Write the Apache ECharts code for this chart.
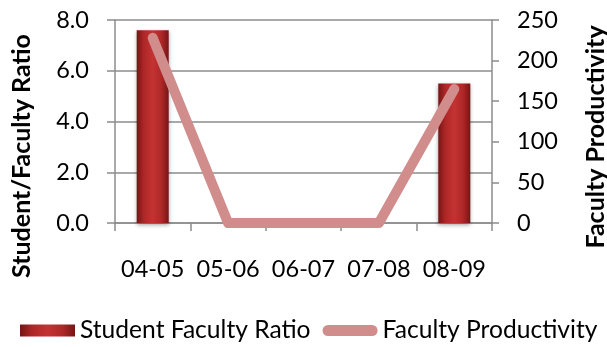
<!DOCTYPE html>
<html>
<head>
<meta charset="utf-8">
<style>
  html, body { margin: 0; padding: 0; background: #fff; }
  #chart { width: 607px; height: 347px; }
</style>
<script src="https://cdn.jsdelivr.net/npm/echarts@6/dist/echarts.min.js"></script>
</head>
<body>
<div id="chart"></div>
<script>
// Academic years on the category axis
const categories = ['04-05', '05-06', '06-07', '07-08', '08-09'];
// Left axis series (bars)
const studentFacultyRatio = [7.6, 0, 0, 0, 5.5];
// Right axis series (line)
const facultyProductivity = [228, 0, 0, 0, 165];
// Tick values for both value axes
const ratioTicks = [0, 2, 4, 6, 8];
const productivityTicks = [0, 50, 100, 150, 200, 250];

const FONT = 'Lato, "Open Sans", sans-serif';
const GRID_COLOR = '#8c8c8c';
const TICK_FONT_SIZE = 23.5;

const chart = echarts.init(document.getElementById('chart'), null, { renderer: 'canvas' });

const barGradient = new echarts.graphic.LinearGradient(0, 0, 1, 0, [
  { offset: 0, color: '#761515' },
  { offset: 0.22, color: '#ad2727' },
  { offset: 0.5, color: '#c43333' },
  { offset: 0.78, color: '#ad2727' },
  { offset: 1, color: '#761515' }
]);

const option = {
  animation: false,
  textStyle: { fontFamily: FONT },
  grid: { left: 115, right: 115, top: 20, bottom: 124, containLabel: false },
  legend: {
    bottom: 4,
    left: 20,
    right: 0,
    padding: 0,
    itemWidth: 55,
    itemHeight: 12,
    itemGap: 12,
    textStyle: { fontFamily: FONT, fontSize: 24.6, color: '#000' },
    data: [
      { name: 'Student Faculty Ratio', icon: 'rect' },
      { name: 'Faculty Productivity', icon: 'path://M6,0 L54,0 A6,6 0 0 1 54,12 L6,12 A6,6 0 0 1 6,0 Z' }
    ]
  },
  xAxis: {
    type: 'category',
    data: categories,
    boundaryGap: true,
    axisLine: { lineStyle: { color: GRID_COLOR, width: 1.5 } },
    axisTick: { show: true, length: 8, alignWithLabel: false, lineStyle: { color: GRID_COLOR, width: 1.5 } },
    axisLabel: { fontFamily: FONT, fontSize: TICK_FONT_SIZE, color: '#000', margin: 34, interval: 0 }
  },
  yAxis: [
    {
      type: 'value',
      min: ratioTicks[0],
      max: ratioTicks[ratioTicks.length - 1],
      interval: ratioTicks[1] - ratioTicks[0],
      axisLine: { show: true, lineStyle: { color: GRID_COLOR, width: 1.5 } },
      axisTick: { show: true, length: 8, lineStyle: { color: GRID_COLOR, width: 1.5 } },
      splitLine: { show: true, lineStyle: { color: GRID_COLOR, width: 1.5 } },
      axisLabel: {
        fontFamily: FONT, fontSize: TICK_FONT_SIZE, color: '#000', margin: 26,
        formatter: v => v.toFixed(1)
      }
    },
    {
      type: 'value',
      position: 'right',
      min: productivityTicks[0],
      max: productivityTicks[productivityTicks.length - 1],
      interval: productivityTicks[1] - productivityTicks[0],
      axisLine: { show: true, lineStyle: { color: GRID_COLOR, width: 1.5 } },
      axisTick: { show: true, length: 7, lineStyle: { color: GRID_COLOR, width: 1.5 } },
      splitLine: { show: false },
      axisLabel: { fontFamily: FONT, fontSize: TICK_FONT_SIZE, color: '#000', margin: 25 }
    }
  ],
  graphic: [
    {
      type: 'text',
      x: 22, y: 156,
      rotation: Math.PI / 2,
      style: {
        text: 'Student/Faculty Ratio',
        font: 'bold 25px ' + FONT,
        fill: '#000',
        align: 'center',
        verticalAlign: 'middle'
      }
    },
    {
      type: 'text',
      x: 596, y: 137,
      rotation: Math.PI / 2,
      style: {
        text: 'Faculty Productivity',
        font: 'bold 25px ' + FONT,
        fill: '#000',
        align: 'center',
        verticalAlign: 'middle'
      }
    }
  ],
  series: [
    {
      name: 'Student Faculty Ratio',
      type: 'bar',
      yAxisIndex: 0,
      barWidth: 32,
      data: studentFacultyRatio,
      itemStyle: {
        color: barGradient,
        shadowColor: 'rgba(0,0,0,0.35)',
        shadowBlur: 4,
        shadowOffsetY: 2
      },
      z: 2
    },
    {
      name: 'Faculty Productivity',
      type: 'line',
      yAxisIndex: 1,
      data: facultyProductivity,
      symbol: 'none',
      lineStyle: { color: '#d18c8c', width: 10, cap: 'round', join: 'round' },
      itemStyle: { color: '#d18c8c' },
      z: 3
    }
  ]
};

chart.setOption(option);
</script>
</body>
</html>
